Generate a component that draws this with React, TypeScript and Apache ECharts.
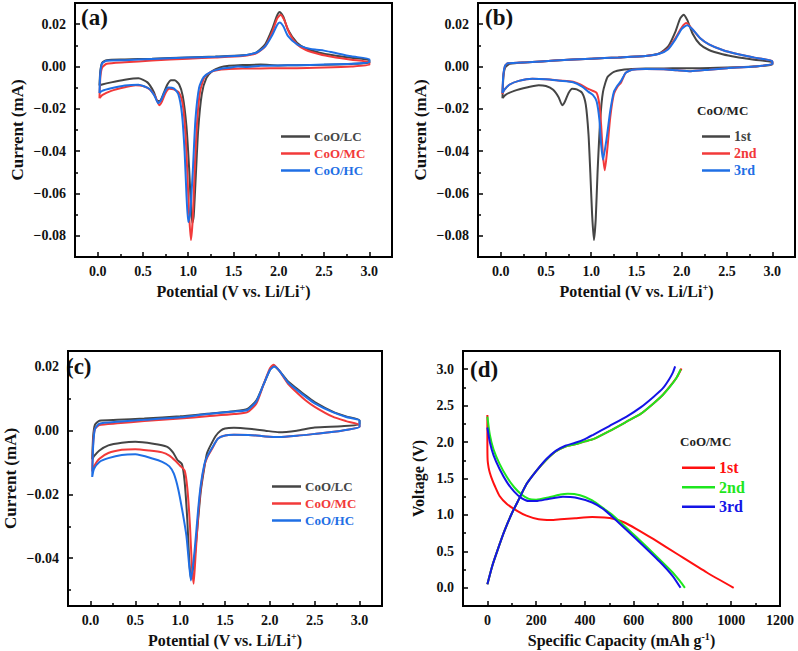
import React, { useEffect, useRef } from 'react';
import * as echarts from 'echarts';

const FONT = '"Liberation Serif", "Times New Roman", serif';

// ---------- Panel (a): CV of CoO/LC, CoO/MC, CoO/HC ----------
const aLC: number[][] = [
  [0.02, -0.009], [0.03, -0.002], [0.05, 0.0018], [0.1, 0.003], [0.3, 0.0033], [0.6, 0.0037], [1.0, 0.0043],
  [1.3, 0.0047], [1.6, 0.0053], [1.75, 0.0066], [1.85, 0.0105], [1.93, 0.018], [1.98, 0.024], [2.01, 0.0258],
  [2.05, 0.0235], [2.1, 0.0175], [2.2, 0.0112], [2.3, 0.0085], [2.45, 0.0065], [2.6, 0.0053], [2.8, 0.0041], [3.0, 0.003],
  [3.0, 0.0018], [2.8, 0.0012], [2.5, 0.0008], [2.2, 0.0006], [2.0, 0.0005], [1.8, 0.0009], [1.6, 0.0007], [1.45, 0.0003],
  [1.35, -0.0004], [1.27, -0.002], [1.2, -0.0055], [1.15, -0.013], [1.11, -0.03], [1.08, -0.055], [1.06, -0.071],
  [1.045, -0.074], [1.03, -0.066], [1.01, -0.048], [0.98, -0.028], [0.94, -0.014], [0.9, -0.0085], [0.85, -0.0065],
  [0.81, -0.0065], [0.77, -0.0085], [0.73, -0.0125], [0.69, -0.0162], [0.66, -0.0163], [0.62, -0.012], [0.55, -0.0075],
  [0.45, -0.0056], [0.3, -0.0063], [0.15, -0.0075], [0.05, -0.0085], [0.02, -0.009],
];
const aMC: number[][] = [
  [0.02, -0.015], [0.03, -0.005], [0.05, -0.0005], [0.1, 0.0013], [0.3, 0.002], [0.6, 0.0028], [1.0, 0.0037],
  [1.3, 0.0043], [1.6, 0.005], [1.75, 0.0062], [1.85, 0.0095], [1.93, 0.0165], [1.98, 0.0225], [2.02, 0.0245],
  [2.06, 0.022], [2.12, 0.0155], [2.2, 0.0105], [2.3, 0.0078], [2.45, 0.0058], [2.6, 0.0045], [2.8, 0.0032], [3.0, 0.002],
  [3.0, 0.0008], [2.8, 0.0], [2.5, -0.0005], [2.2, -0.0008], [2.0, -0.0008], [1.8, -0.0009], [1.6, -0.001], [1.45, -0.0012],
  [1.35, -0.0015], [1.25, -0.0025], [1.18, -0.005], [1.13, -0.012], [1.1, -0.025], [1.07, -0.05], [1.05, -0.072],
  [1.03, -0.082], [1.01, -0.07], [0.99, -0.05], [0.97, -0.032], [0.94, -0.018], [0.9, -0.0125], [0.84, -0.0108],
  [0.79, -0.0105], [0.75, -0.0125], [0.71, -0.0165], [0.68, -0.0183], [0.64, -0.0145], [0.58, -0.011], [0.5, -0.0092],
  [0.42, -0.0088], [0.3, -0.0098], [0.15, -0.0115], [0.05, -0.0135], [0.02, -0.015],
];
const aHC: number[][] = [
  [0.02, -0.0125], [0.03, -0.003], [0.05, 0.0015], [0.1, 0.0027], [0.3, 0.003], [0.6, 0.0036], [1.0, 0.0042],
  [1.3, 0.0046], [1.6, 0.0052], [1.75, 0.0065], [1.85, 0.0095], [1.93, 0.015], [1.98, 0.0195], [2.01, 0.0208],
  [2.05, 0.019], [2.1, 0.0145], [2.2, 0.0105], [2.3, 0.0088], [2.4, 0.008], [2.5, 0.0075], [2.6, 0.0066], [2.8, 0.0048], [3.0, 0.0035],
  [3.0, 0.002], [2.8, 0.0013], [2.5, 0.0009], [2.2, 0.0006], [2.0, 0.0005], [1.8, 0.0003], [1.65, -0.0002], [1.55, 0.0],
  [1.45, -0.0006], [1.35, -0.0012], [1.25, -0.0025], [1.17, -0.005], [1.12, -0.01], [1.08, -0.025], [1.05, -0.05],
  [1.02, -0.07], [1.0, -0.0735], [0.98, -0.06], [0.96, -0.04], [0.93, -0.022], [0.89, -0.013], [0.84, -0.0103],
  [0.78, -0.0099], [0.74, -0.012], [0.7, -0.016], [0.67, -0.0173], [0.63, -0.014], [0.57, -0.0105], [0.45, -0.0086],
  [0.3, -0.009], [0.15, -0.0103], [0.05, -0.0115], [0.02, -0.0125],
];

// ---------- Panel (b): CoO/MC cycles 1-3 ----------
const b1st: number[][] = aMC;
const b2nd: number[][] = [
  [0.02, -0.013], [0.03, -0.004], [0.05, 0.0005], [0.08, 0.0015], [0.3, 0.002], [0.6, 0.0028], [1.0, 0.0037],
  [1.3, 0.0043], [1.6, 0.005], [1.75, 0.006], [1.85, 0.0085], [1.93, 0.0135], [2.0, 0.0185], [2.05, 0.0205],
  [2.1, 0.0185], [2.2, 0.0135], [2.3, 0.0105], [2.45, 0.0078], [2.6, 0.006], [2.8, 0.0042], [3.0, 0.0025],
  [3.0, 0.0012], [2.8, 0.0], [2.5, -0.0008], [2.3, -0.0015], [2.1, -0.0022], [1.95, -0.0018], [1.8, -0.0013],
  [1.6, -0.0012], [1.45, -0.0015], [1.38, -0.003], [1.33, -0.0075], [1.29, -0.0095], [1.25, -0.013], [1.21, -0.024],
  [1.18, -0.038], [1.15, -0.049], [1.13, -0.042], [1.11, -0.028], [1.09, -0.018], [1.06, -0.0125], [1.0, -0.0112],
  [0.95, -0.0102], [0.88, -0.0085], [0.8, -0.0072], [0.65, -0.0066], [0.5, -0.006], [0.35, -0.0058], [0.2, -0.0068],
  [0.1, -0.0085], [0.04, -0.011], [0.02, -0.013],
];
const b3rd: number[][] = [
  [0.02, -0.0125], [0.03, -0.004], [0.05, 0.0005], [0.08, 0.0015], [0.3, 0.002], [0.6, 0.0028], [1.0, 0.0037],
  [1.3, 0.0043], [1.6, 0.005], [1.75, 0.006], [1.85, 0.0082], [1.93, 0.0128], [2.0, 0.0178], [2.06, 0.0195],
  [2.12, 0.0175], [2.2, 0.0135], [2.3, 0.0105], [2.45, 0.0078], [2.6, 0.006], [2.8, 0.0042], [3.0, 0.0025],
  [3.0, 0.0012], [2.8, 0.0], [2.5, -0.0008], [2.3, -0.0015], [2.1, -0.0022], [1.95, -0.0018], [1.8, -0.0013],
  [1.6, -0.0012], [1.45, -0.0015], [1.38, -0.003], [1.33, -0.0068], [1.29, -0.009], [1.25, -0.012], [1.21, -0.021],
  [1.17, -0.034], [1.13, -0.044], [1.11, -0.037], [1.09, -0.025], [1.06, -0.0165], [1.02, -0.0135], [0.97, -0.012],
  [0.9, -0.0095], [0.8, -0.0074], [0.65, -0.0067], [0.5, -0.006], [0.35, -0.0058], [0.2, -0.0068],
  [0.1, -0.0085], [0.04, -0.011], [0.02, -0.0125],
];

// ---------- Panel (c): 2nd-cycle CV comparison ----------
const cLC: number[][] = [
  [0.02, -0.009], [0.03, -0.002], [0.05, 0.0018], [0.1, 0.0031], [0.3, 0.0034], [0.6, 0.0038], [1.0, 0.0045],
  [1.3, 0.0053], [1.6, 0.0061], [1.75, 0.0068], [1.85, 0.0095], [1.93, 0.0145], [2.0, 0.019], [2.04, 0.0203],
  [2.1, 0.019], [2.2, 0.0155], [2.3, 0.0132], [2.4, 0.011], [2.5, 0.009], [2.7, 0.006], [2.85, 0.0045], [3.0, 0.0033],
  [3.0, 0.002], [2.8, 0.0014], [2.5, 0.001], [2.3, 0.0], [2.1, -0.0005], [1.95, 0.0], [1.8, 0.0005], [1.6, 0.0009],
  [1.5, 0.0007], [1.45, 0.0], [1.4, -0.0015], [1.35, -0.004], [1.3, -0.007], [1.27, -0.0115], [1.23, -0.019],
  [1.2, -0.028], [1.16, -0.04], [1.12, -0.0465], [1.1, -0.04], [1.08, -0.028], [1.05, -0.016], [1.02, -0.0105],
  [0.97, -0.0092], [0.92, -0.0068], [0.85, -0.005], [0.7, -0.0041], [0.5, -0.0035], [0.35, -0.0038], [0.2, -0.0046],
  [0.1, -0.0062], [0.04, -0.008], [0.02, -0.009],
];
const cMC: number[][] = [
  [0.02, -0.0128], [0.03, -0.004], [0.05, 0.0005], [0.1, 0.0018], [0.3, 0.0023], [0.6, 0.003], [1.0, 0.0038],
  [1.3, 0.0045], [1.6, 0.0052], [1.75, 0.0058], [1.85, 0.0085], [1.93, 0.0145], [2.0, 0.0195], [2.04, 0.0207],
  [2.1, 0.019], [2.2, 0.0148], [2.3, 0.012], [2.4, 0.0095], [2.5, 0.0075], [2.7, 0.0044], [2.85, 0.003], [3.0, 0.0018],
  [3.0, 0.0012], [2.8, 0.0], [2.5, -0.001], [2.3, -0.0016], [2.1, -0.002], [1.95, -0.0018], [1.8, -0.0014], [1.6, -0.0013],
  [1.5, -0.0015], [1.42, -0.0025], [1.36, -0.0055], [1.3, -0.0085], [1.27, -0.011], [1.23, -0.018], [1.2, -0.027],
  [1.17, -0.04], [1.15, -0.048], [1.13, -0.042], [1.11, -0.03], [1.08, -0.018], [1.05, -0.0125], [1.0, -0.011],
  [0.95, -0.0095], [0.88, -0.0078], [0.8, -0.0068], [0.65, -0.0062], [0.5, -0.0058], [0.35, -0.006], [0.2, -0.007],
  [0.1, -0.0088], [0.04, -0.0112], [0.02, -0.0128],
];
const cHC: number[][] = [
  [0.02, -0.0145], [0.03, -0.005], [0.05, 0.0005], [0.1, 0.0022], [0.3, 0.0028], [0.6, 0.0034], [1.0, 0.0042],
  [1.3, 0.0052], [1.6, 0.006], [1.75, 0.0065], [1.85, 0.0092], [1.93, 0.0145], [2.0, 0.019], [2.05, 0.0201],
  [2.1, 0.019], [2.2, 0.0152], [2.3, 0.0128], [2.4, 0.0106], [2.5, 0.0086], [2.7, 0.0058], [2.85, 0.0043], [3.0, 0.0032],
  [3.0, 0.0012], [2.8, 0.0], [2.5, -0.001], [2.3, -0.0016], [2.1, -0.002], [1.95, -0.0018], [1.8, -0.0014], [1.6, -0.0013],
  [1.5, -0.0015], [1.42, -0.0025], [1.36, -0.0052], [1.3, -0.0082], [1.27, -0.0105], [1.23, -0.017], [1.2, -0.025],
  [1.16, -0.038], [1.12, -0.047], [1.1, -0.042], [1.07, -0.033], [1.03, -0.026], [0.98, -0.0185], [0.93, -0.0135],
  [0.88, -0.0112], [0.8, -0.0098], [0.7, -0.0088], [0.5, -0.0074], [0.35, -0.0076], [0.2, -0.0086], [0.1, -0.0098],
  [0.04, -0.012], [0.02, -0.0145],
];

// ---------- Panel (d): galvanostatic profiles of CoO/MC ----------
const d1Dis: number[][] = [
  [0, 2.37], [0, 2.0], [1, 1.75], [5, 1.65], [10, 1.58], [20, 1.48], [30, 1.4], [50, 1.26], [80, 1.15], [120, 1.06],
  [160, 0.99], [210, 0.94], [260, 0.93], [300, 0.94], [360, 0.955], [430, 0.97], [480, 0.965], [520, 0.945], [560, 0.9],
  [610, 0.81], [680, 0.67], [780, 0.46], [900, 0.21], [1010, 0.0],
];
const d1Chg: number[][] = [
  [0, 0.05], [20, 0.3], [40, 0.5], [70, 0.78], [100, 1.02], [130, 1.22], [160, 1.42], [200, 1.6], [240, 1.75],
  [280, 1.87], [320, 1.94], [360, 1.97], [400, 2.01], [434, 2.04], [500, 2.15], [571, 2.28], [630, 2.39], [681, 2.53],
  [720, 2.65], [750, 2.77], [777, 2.89], [796, 3.01],
];
const d2Dis: number[][] = [
  [0, 2.35], [10, 2.1], [25, 1.9], [50, 1.7], [80, 1.52], [110, 1.38], [140, 1.28], [170, 1.22], [200, 1.21],
  [250, 1.24], [300, 1.28], [330, 1.29], [380, 1.27], [430, 1.2], [480, 1.08], [520, 0.98], [610, 0.7], [700, 0.41],
  [760, 0.21], [790, 0.09], [810, 0.0],
];
const d2Chg: number[][] = [
  [0, 0.05], [20, 0.3], [40, 0.5], [70, 0.78], [100, 1.02], [130, 1.22], [160, 1.42], [200, 1.6], [240, 1.75],
  [280, 1.87], [320, 1.94], [360, 1.97], [400, 2.01], [434, 2.04], [500, 2.15], [571, 2.28], [630, 2.39], [681, 2.53],
  [720, 2.65], [749, 2.76], [775, 2.88], [793, 3.0],
];
const d3Dis: number[][] = [
  [0, 2.2], [10, 2.0], [25, 1.82], [50, 1.63], [80, 1.45], [110, 1.32], [140, 1.23], [170, 1.19], [200, 1.19],
  [250, 1.22], [310, 1.25], [360, 1.24], [430, 1.17], [480, 1.07], [520, 0.95], [610, 0.67], [706, 0.36], [760, 0.16],
  [792, 0.0],
];
const d3Chg: number[][] = [
  [0, 0.05], [20, 0.3], [40, 0.5], [70, 0.78], [100, 1.02], [130, 1.22], [160, 1.42], [200, 1.6], [240, 1.76],
  [280, 1.88], [320, 1.95], [360, 1.99], [400, 2.04], [434, 2.1], [500, 2.22], [571, 2.35], [630, 2.48], [681, 2.62],
  [720, 2.74], [745, 2.86], [760, 2.95], [770, 3.04],
];

// ---------- Tick values ----------
const cvXMajor = [0, 0.5, 1, 1.5, 2, 2.5, 3];
const cvXMinor = [0.25, 0.75, 1.25, 1.75, 2.25, 2.75];
const abYMajor = [-0.08, -0.06, -0.04, -0.02, 0, 0.02];
const abYMinor = [-0.07, -0.05, -0.03, -0.01, 0.01];
const cYMajor = [-0.04, -0.02, 0, 0.02];
const cYMinor = [-0.05, -0.03, -0.01, 0.01];
const dXMajor = [0, 200, 400, 600, 800, 1000, 1200];
const dXMinor = [100, 300, 500, 700, 900, 1100];
const dYMajor = [0, 0.5, 1, 1.5, 2, 2.5, 3];
const dYMinor = [0.25, 0.75, 1.25, 1.75, 2.25, 2.75];

const C_BLACK = '#454545';
const C_RED = '#f23a3a';
const C_BLUE = '#1f6fe5';
const D_RED = '#ff1010';
const D_GREEN = '#1ee61e';
const D_BLUE = '#1414e6';

const fmt = (dec: number) => (v: number) => {
  const s = Math.abs(v) < 1e-9 ? (0).toFixed(dec) : v.toFixed(dec);
  return s.replace('-', '\u2212');
};

const labelStyle = { fontSize: 14, fontWeight: 'bold', fontFamily: FONT, color: '#111' };
const nameStyle = (size: number) => ({
  fontSize: size, fontWeight: 'bold', fontFamily: FONT, color: '#111', lineHeight: 19,
  rich: { sup: { fontSize: 10, fontWeight: 'bold', fontFamily: FONT, color: '#111', verticalAlign: 'top', lineHeight: 10 } },
});

function makeAxes(gi: number, kind: 'x' | 'y', min: number, max: number, major: number[], minor: number[], dec: number, name: string, nameGap: number, nameSize: number) {
  const pos = kind === 'x' ? 'bottom' : 'left';
  return [
    {
      type: 'value', gridIndex: gi, min, max, position: pos,
      name, nameLocation: 'middle', nameGap, nameTextStyle: nameStyle(nameSize),
      axisLine: { show: true, onZero: false, lineStyle: { color: '#000', width: 2 } },
      axisTick: { show: true, inside: true, length: 5, customValues: major, lineStyle: { color: '#000', width: 1.5 } },
      axisLabel: { show: true, customValues: major, formatter: fmt(dec), margin: kind === 'x' ? 7 : 9, ...labelStyle },
      splitLine: { show: false },
    },
    {
      type: 'value', gridIndex: gi, min, max, position: pos,
      axisLine: { show: false, onZero: false },
      axisTick: { show: true, inside: true, length: 3, customValues: minor, lineStyle: { color: '#000', width: 1.5 } },
      axisLabel: { show: false },
      splitLine: { show: false },
    },
  ];
}

const X_CV = 'Potential (V vs. Li/Li{sup|+})';
const Y_CV = 'Current (mA)';

const displayNames: Record<string, string> = {
  aLC: 'CoO/LC', aMC: 'CoO/MC', aHC: 'CoO/HC',
  b1: '1st', b2: '2nd', b3: '3rd',
  cLC: 'CoO/LC', cMC: 'CoO/MC', cHC: 'CoO/HC',
  d1: '1st', d2: '2nd', d3: '3rd',
};

function line(name: string, data: number[][], color: string, gi: number) {
  return {
    type: 'line', name, data, xAxisIndex: gi * 2, yAxisIndex: gi * 2,
    showSymbol: false, symbol: 'none', smooth: 0.2,
    lineStyle: { color, width: 2 }, itemStyle: { color },
  };
}

function legend(left: number, top: number, names: string[], colors: string[], fontSize: number, lh: number, w: number) {
  return {
    left, top, orient: 'vertical', itemGap: 0, itemWidth: w, itemHeight: 2.5, icon: 'rect',
    selectedMode: false,
    formatter: (n: string) => displayNames[n],
    textStyle: { fontSize, fontWeight: 'bold', fontFamily: FONT, lineHeight: lh, padding: [0, 0, 0, -1] },
    data: names.map((n, i) => ({ name: n, textStyle: { color: colors[i] } })),
  };
}

export default function App() {
  const ref = useRef<HTMLDivElement>(null);
  useEffect(() => {
    if (!ref.current) return;
    const chart = echarts.init(ref.current, null, { renderer: 'svg' });
    const grids = [
      { left: 75, top: 3, width: 317, height: 254 },
      { left: 478, top: 3, width: 317, height: 254 },
      { left: 64, top: 351, width: 318, height: 255 },
      { left: 463, top: 351, width: 317, height: 255 },
    ].map((g) => ({ ...g, show: true, borderColor: '#000', borderWidth: 2, backgroundColor: 'transparent' }));

    const xAxis = [
      ...makeAxes(0, 'x', -0.25, 3.25, cvXMajor, cvXMinor, 1, X_CV, 25, 16),
      ...makeAxes(1, 'x', -0.25, 3.25, cvXMajor, cvXMinor, 1, X_CV, 25, 16),
      ...makeAxes(2, 'x', -0.25, 3.25, cvXMajor, cvXMinor, 1, X_CV, 25, 16),
      ...makeAxes(3, 'x', -100, 1200, dXMajor, dXMinor, 0, 'Specific Capacity (mAh g{sup|-1})', 25, 16),
    ];
    const yAxis = [
      ...makeAxes(0, 'y', -0.09, 0.03, abYMajor, abYMinor, 2, Y_CV, 48, 17),
      ...makeAxes(1, 'y', -0.09, 0.03, abYMajor, abYMinor, 2, Y_CV, 48, 17),
      ...makeAxes(2, 'y', -0.055, 0.025, cYMajor, cYMinor, 2, Y_CV, 48, 17),
      ...makeAxes(3, 'y', -0.25, 3.25, dYMajor, dYMinor, 1, 'Voltage (V)', 35, 16),
    ];

    const series = [
      line('aLC', aLC, C_BLACK, 0), line('aMC', aMC, C_RED, 0), line('aHC', aHC, C_BLUE, 0),
      line('b1', b1st, C_BLACK, 1), line('b2', b2nd, C_RED, 1), line('b3', b3rd, C_BLUE, 1),
      line('cLC', cLC, C_BLACK, 2), line('cMC', cMC, C_RED, 2), line('cHC', cHC, C_BLUE, 2),
      line('d1', d1Dis, D_RED, 3), line('d1', d1Chg, D_RED, 3),
      line('d2', d2Dis, D_GREEN, 3), line('d2', d2Chg, D_GREEN, 3),
      line('d3', d3Dis, D_BLUE, 3), line('d3', d3Chg, D_BLUE, 3),
    ];

    const panelLabel = (text: string, x: number, y: number) => ({
      type: 'text', left: x, top: y,
      style: { text, fontSize: 23, fontWeight: 'bold', fontFamily: FONT, fill: '#111' },
    });
    const titleText = (text: string, x: number, y: number, size: number) => ({
      type: 'text', left: x, top: y,
      style: { text, fontSize: size, fontWeight: 'bold', fontFamily: FONT, fill: '#222' },
    });

    chart.setOption({
      animation: false,
      backgroundColor: '#fff',
      grid: grids,
      xAxis,
      yAxis,
      series,
      legend: [
        legend(276, 123, ['aLC', 'aMC', 'aHC'], [C_BLACK, C_RED, C_BLUE], 13, 17, 29),
        legend(697, 123, ['b1', 'b2', 'b3'], [C_BLACK, C_RED, C_BLUE], 14, 17, 28),
        legend(267, 473, ['cLC', 'cMC', 'cHC'], [C_BLACK, C_RED, C_BLUE], 13, 17, 29),
        legend(677, 453, ['d1', 'd2', 'd3'], [D_RED, D_GREEN, D_BLUE], 16, 19.5, 33),
      ],
      graphic: [
        panelLabel('(a)', 81, 6),
        panelLabel('(b)', 485, 6),
        panelLabel('(c)', 66, 355),
        panelLabel('(d)', 470, 358),
        titleText('CoO/MC', 697, 104, 13),
        titleText('CoO/MC', 680, 435, 13),
      ],
    });
    return () => chart.dispose();
  }, []);
  return <div ref={ref} style={{ position: 'fixed', left: 0, top: 0, width: 798, height: 651 }} />;
}
